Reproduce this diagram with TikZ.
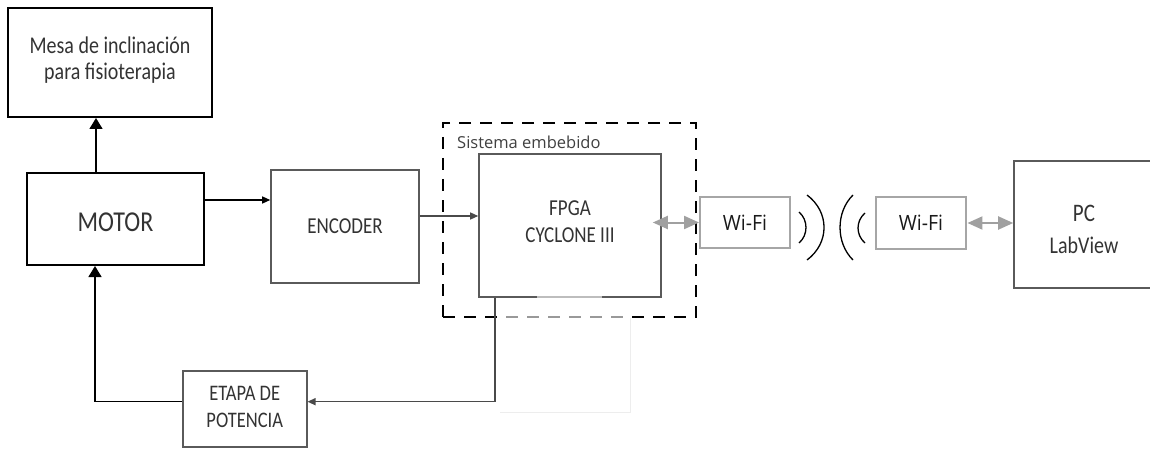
\documentclass[tikz,border=0pt]{standalone}
\usepackage{graphicx}
\usepackage{fontspec}
\setmainfont{Carlito}
\newfontfamily\uifont{Open Sans}
\usetikzlibrary{arrows.meta,calc}
\definecolor{txt}{HTML}{333333}
\definecolor{boxgray}{HTML}{5A5A5A}
\definecolor{wiregray}{HTML}{4A4A4A}
\definecolor{wifigray}{HTML}{A6A6A6}
\definecolor{linkgray}{HTML}{A0A0A0}
% tall lettering used inside the blocks
\newcommand{\tallline}[1]{\scalebox{1}[1.2]{#1}}
\begin{document}
\begin{tikzpicture}[x=1pt,y=-1pt,
  mainblock/.style={draw=black,line width=2pt,rectangle,inner sep=0pt},
  subblock/.style={draw=boxgray,line width=1.6pt,rectangle,inner sep=0pt},
  boxtext/.style={inner sep=0pt,align=center,text=txt},
  wifibox/.style={draw=wifigray,line width=2.4pt,rectangle,inner sep=0pt,align=center,
    text=black!90,font=\uifont\fontsize{19.5}{24}\selectfont},
  sig/.style={draw=black,line width=1.4pt,-{Triangle[length=8pt,width=7pt]}},
  graysig/.style={draw=wiregray,line width=1.4pt,-{Triangle[length=8pt,width=7pt]}},
  bigsig/.style={draw=black,line width=1.4pt,-{Triangle[length=11pt,width=13pt]}},
  link/.style={draw=linkgray,line width=2pt,{Triangle[length=15pt,width=13pt]}-{Triangle[length=15pt,width=13pt]}},
  wave/.style={draw=black,line width=1.3pt},
  groupbox/.style={draw=black,line width=1.8pt,dash pattern=on 12pt off 9pt,rectangle,inner sep=0pt}
]
\useasboundingbox (0,0) rectangle (1150,449);

% blocks
\node[mainblock,minimum width=204pt,minimum height=109pt] (mesa) at (110,62.5) {};
\node[boxtext,font=\fontsize{20}{26}\selectfont] (mesatext) at ([yshift=2.5pt]mesa.center)
      {\tallline{Mesa de inclinación}\\\tallline{para fisioterapia}};
\node[mainblock,minimum width=177pt,minimum height=92pt] (motor) at (115.5,219) {};
\node[boxtext,font=\fontsize{24}{28}\selectfont] (motortext) at ([yshift=-3pt]motor.center)
      {\tallline{MOTOR}};
\node[subblock,minimum width=148pt,minimum height=113pt] (encoder) at (345,226.5) {};
\node[boxtext,font=\fontsize{19}{24}\selectfont] (encodertext) at (encoder.center)
      {\tallline{ENCODER}};

% embedded system group
\node[groupbox,minimum width=253pt,minimum height=194pt] (embebido) at (569.5,220) {};
\node[anchor=west,inner sep=0pt,text=black!75,font=\uifont\fontsize{16.5}{20}\selectfont]
      (embebidolabel) at (457,142) {Sistema embebido};

\node[subblock,minimum width=182pt,minimum height=143pt] (fpga) at (570,225.5) {};
\node[boxtext,font=\fontsize{19}{27}\selectfont] (fpgatext) at ([yshift=4pt]fpga.center)
      {\tallline{FPGA}\\\tallline{CYCLONE III}};
\node[subblock,minimum width=124pt,minimum height=76pt] (etapa) at (244.7,409) {};
\node[boxtext,font=\fontsize{18.5}{27}\selectfont] (etapatext) at ([yshift=2pt]etapa.center)
      {\tallline{ETAPA DE}\\\tallline{POTENCIA}};

\node[wifibox,minimum width=89.5pt,minimum height=51pt] (wifiA) at (745,222.5) {\scalebox{1}[1.08]{Wi-Fi}};
\node[wifibox,minimum width=90.5pt,minimum height=52pt] (wifiB) at (921,223) {\scalebox{1}[1.08]{Wi-Fi}};
\node[subblock,minimum width=140pt,minimum height=127pt] (pc) at (1084,224.5) {};
\node[boxtext,font=\fontsize{20}{32}\selectfont] (pctext) at ([yshift=-4.5pt]pc.center)
      {\tallline{\fontsize{21}{32}\selectfont PC}\\\tallline{LabView}};

% washed-out area under the embedded system
\fill[white,opacity=0.6] (498,306) rectangle (630,412);
\fill[white,opacity=0.6] (537,294) rectangle (602,300);
\draw[black!7,line width=0.8pt] (630,318) -- (630,412) -- (500,412);

% signal connectors
\draw[bigsig] ([xshift=-19.5pt]motor.north) -- ([xshift=-19.5pt]motor.north |- mesa.south);
\draw[sig] ([yshift=19pt]motor.east) -- ([yshift=19pt]motor.east -| encoder.west);
\draw[graysig] ([yshift=10.5pt]encoder.east) -- ([yshift=10.5pt]encoder.east -| fpga.west);
\draw[graysig] ([xshift=-75pt]fpga.south) |- ([yshift=7.3pt]etapa.east);
\draw[bigsig] ([yshift=7.3pt]etapa.west) -| ([xshift=-20.5pt]motor.south);

% wireless links
\draw[link] ([xshift=-9pt]fpga.east |- wifiA.west) -- (wifiA.west);
\draw[link] (wifiB.east) -- (wifiB.east -| pc.west);

% radio waves between the two Wi-Fi modules
\draw[wave] (799,212) .. controls (808.3,220) and (808.3,235) .. (799,243);
\draw[wave] (807,195) .. controls (829.7,212) and (829.7,243) .. (807,260);
\draw[wave] (853,195) .. controls (835.7,212) and (835.7,243) .. (853,260);
\draw[wave] (865,213) .. controls (855.7,221) and (855.7,235) .. (865,243);
\end{tikzpicture}
\end{document}
